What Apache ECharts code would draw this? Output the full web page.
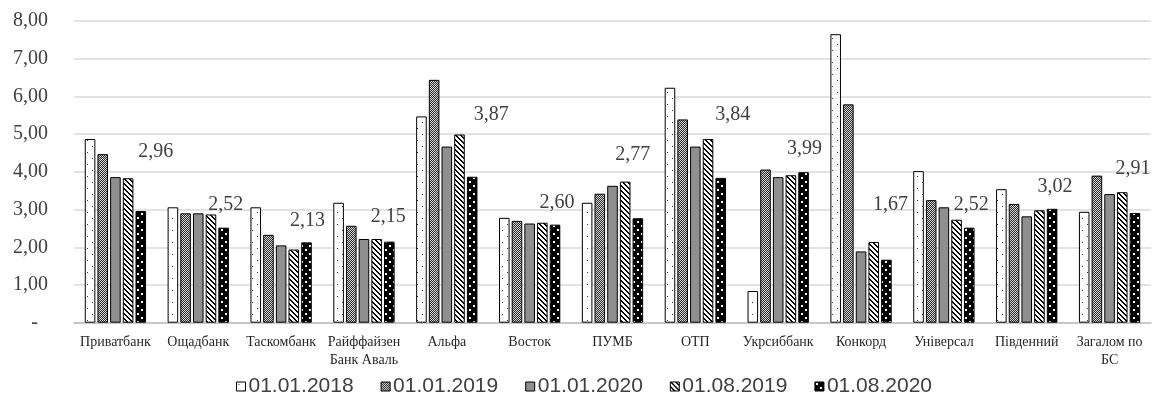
<!DOCTYPE html>
<html>
<head>
<meta charset="utf-8">
<script src="https://cdn.jsdelivr.net/npm/echarts@6/dist/echarts.min.js"></script>
<style>html,body{margin:0;padding:0;background:#fff;}#c{width:1153px;height:398px;}</style>
</head>
<body>
<div id="c"></div>
<script>
const categories = ['Приватбанк','Ощадбанк','Таскомбанк','Райффайзен\nБанк Аваль','Альфа','Восток','ПУМБ','ОТП','Укрсиббанк','Конкорд','Універсал','Південний','Загалом по\nБС'];
const seriesNames = ['01.01.2018','01.01.2019','01.01.2020','01.08.2019','01.08.2020'];
const v20180101 = [4.87,3.06,3.06,3.18,5.47,2.78,3.18,6.23,0.84,7.65,4.02,3.54,2.94];
const v20190101 = [4.47,2.90,2.33,2.57,6.44,2.70,3.42,5.39,4.06,5.79,3.25,3.15,3.90];
const v20200101 = [3.86,2.90,2.05,2.22,4.67,2.63,3.63,4.67,3.86,1.89,3.06,2.82,3.41];
const v20190801 = [3.83,2.87,1.94,2.22,4.99,2.65,3.74,4.87,3.91,2.14,2.73,2.98,3.46];
const v20200801 = [2.96,2.52,2.13,2.15,3.87,2.60,2.77,3.84,3.99,1.67,2.52,3.02,2.91];
const yTicks = [0,1,2,3,4,5,6,7,8];

// layout: label shifts for the labelled series (pixels)
const labelShift = [[15,-49],[2,-13],[1,-12],[-1,-15],[19,-52],[2,-12],[-5,-53],[12,-53],[1,-13],[4,-45],[2,-13],[3,-12],[-2,-34]];

function makePat(w, h, fn) {
  const c = document.createElement('canvas');
  c.width = w; c.height = h;
  const ctx = c.getContext('2d');
  for (let y = 0; y < h; y++) for (let x = 0; x < w; x++) {
    ctx.fillStyle = fn(x, y);
    ctx.fillRect(x, y, 1, 1);
  }
  return { image: c, repeat: 'repeat' };
}
const patDots = makePat(10, 12, (x, y) => ((x === 2 && y === 2) || (x === 7 && y === 8)) ? '#333' : '#fff');
const patChecker = makePat(2, 2, (x, y) => ((x + y) % 2 === 0) ? '#d8d8d8' : '#2a2a2a');
const patGray = '#8f8f8f';
const patStripes = makePat(5, 5, (x, y) => (((x - y) % 5 + 5) % 5 < 2) ? '#000' : '#fff');
const patBlackDots = makePat(8, 8, (x, y) => (((x === 1 || x === 2) && (y === 1 || y === 2)) || ((x === 5 || x === 6) && (y === 5 || y === 6))) ? '#fff' : '#000');

const fills = [patDots, patChecker, patGray, patStripes, patBlackDots];
const values = [v20180101, v20190101, v20200101, v20190801, v20200801];

const fmt = v => v.toFixed(2).replace('.', ',');

const series = values.map((arr, si) => {
  const s = {
    name: seriesNames[si],
    type: 'bar',
    barGap: '20%',
    barCategoryGap: '26%',
    itemStyle: { color: fills[si], borderColor: '#000', borderWidth: 1 },
    emphasis: { disabled: true },
    data: si === 4 ? arr.map((v, i) => ({ value: v, label: { offset: labelShift[i] } })) : arr
  };
  if (si === 4) {
    s.label = {
      show: true, position: 'top', distance: 0,
      formatter: p => fmt(p.value),
      fontFamily: 'Liberation Serif', fontSize: 20, color: '#404040'
    };
  }
  return s;
});

const chart = echarts.init(document.getElementById('c'), null, { renderer: 'canvas' });
chart.setOption({
  animation: false,
  backgroundColor: '#fff',
  grid: { left: 74, right: 2, top: 21, bottom: 75.3, containLabel: false },
  legend: {
    data: seriesNames,
    left: 236, top: 376, padding: 0,
    icon: 'rect', itemWidth: 9, itemHeight: 9, itemGap: 27,
    itemStyle: { borderColor: '#000', borderWidth: 1 },
    textStyle: { fontFamily: 'Liberation Sans', fontSize: 21, color: '#404040', padding: [0, 0, 0, -2] }
  },
  xAxis: {
    type: 'category',
    data: categories,
    axisTick: { show: false },
    axisLine: { show: true, lineStyle: { color: '#bfbfbf', width: 1.5 } },
    axisLabel: { interval: 0, margin: 11, fontFamily: 'Liberation Serif', fontSize: 14, lineHeight: 18, color: '#262626' }
  },
  yAxis: {
    type: 'value',
    min: yTicks[0], max: yTicks[yTicks.length - 1], interval: 1,
    axisLine: { show: false },
    axisTick: { show: false },
    splitLine: { lineStyle: { color: '#d9d9d9', width: 1.5 } },
    axisLabel: {
      margin: 26,
      fontFamily: 'Liberation Serif', fontSize: 20, color: '#404040',
      formatter: v => v === 0 ? '{d|-}' : fmt(v),
      rich: { d: { fontFamily: 'Liberation Serif', fontSize: 20, color: '#404040', padding: [0, 10, 0, 0] } }
    }
  },
  series: series
});
</script>
</body>
</html>
